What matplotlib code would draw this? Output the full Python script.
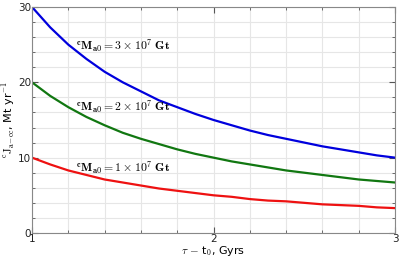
import numpy as np
import matplotlib
matplotlib.use("Agg")
import matplotlib.pyplot as plt
from matplotlib.ticker import MultipleLocator

# values
t = [1.0, 1.1, 1.2, 1.3, 1.4, 1.5, 1.6, 1.7, 1.8, 1.9, 2.0,
     2.1, 2.2, 2.3, 2.4, 2.5, 2.6, 2.7, 2.8, 2.9, 3.0]
j_3e7 = [30.0, 27.3, 25.0, 23.1, 21.4, 20.0, 18.8, 17.6, 16.7, 15.8, 15.0,
         14.3, 13.6, 13.0, 12.5, 12.0, 11.5, 11.1, 10.7, 10.3, 10.0]
j_2e7 = [20.0, 18.2, 16.7, 15.4, 14.3, 13.3, 12.5, 11.8, 11.1, 10.5, 10.0,
         9.5, 9.1, 8.7, 8.3, 8.0, 7.7, 7.4, 7.1, 6.9, 6.7]
j_1e7 = [10.0, 9.1, 8.3, 7.7, 7.1, 6.7, 6.3, 5.9, 5.6, 5.3, 5.0,
         4.8, 4.5, 4.3, 4.2, 4.0, 3.8, 3.7, 3.6, 3.4, 3.3]

labels = [r"$\mathbf{^{c}M_{a0} = 3 \times 10^{7}\ Gt}$",
          r"$\mathbf{^{c}M_{a0} = 2 \times 10^{7}\ Gt}$",
          r"$\mathbf{^{c}M_{a0} = 1 \times 10^{7}\ Gt}$"]

plt.rcParams['mathtext.fontset'] = 'cm'

fig = plt.figure(figsize=(4.0, 2.58), dpi=100)
ax = fig.add_axes([0.08, 0.097, 0.9075, 0.876])

ax.plot(t, j_3e7, color='#0000dd', lw=1.6)
ax.plot(t, j_2e7, color='#117711', lw=1.6)
ax.plot(t, j_1e7, color='#ee1111', lw=1.6)

ax.text(1.24, 24.7, labels[0], fontsize=8.5, va='center')
ax.text(1.24, 16.6, labels[1], fontsize=8.5, va='center')
ax.text(1.24, 8.6, labels[2], fontsize=8.5, va='center')

ax.set_xlim(1, 3)
ax.set_ylim(0, 30)
ax.xaxis.set_major_locator(MultipleLocator(1))
ax.xaxis.set_minor_locator(MultipleLocator(0.2))
ax.yaxis.set_major_locator(MultipleLocator(10))
ax.yaxis.set_minor_locator(MultipleLocator(2))
ax.grid(True, which='both', color='#e6e6e6', lw=0.8)
ax.set_axisbelow(True)
ax.tick_params(which='both', direction='in', top=True, right=True,
               colors='#555555', labelcolor='#222222', labelsize=7.5, pad=0.5)
ax.tick_params(which='major', length=4)
ax.tick_params(which='minor', length=2)
for s in ax.spines.values():
    s.set_color('#888888')

ax.set_xlabel(r"$\tau$ $-$ t$_0$, Gyrs", fontsize=8, labelpad=0)
ax.set_ylabel(r"$^{\rm c}{\rm J}_{\rm a\!-\!cc}$, Mt yr$^{-1}$", fontsize=8, labelpad=1)

fig.savefig("out.png", dpi=100)
